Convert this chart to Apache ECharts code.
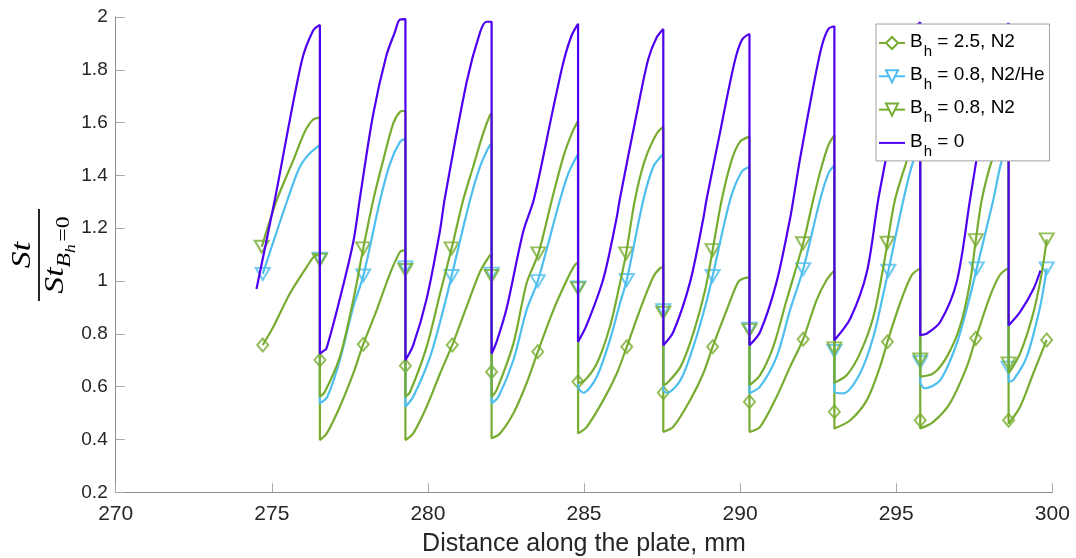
<!DOCTYPE html>
<html><head><meta charset="utf-8">
<script src="https://cdn.jsdelivr.net/npm/echarts@6/dist/echarts.min.js"></script>
<style>html,body{margin:0;padding:0;background:#fff}#c{width:1076px;height:558px}</style>
</head><body><div id="c"></div>
<script>
// ---- data (x in mm, y = St / St_{Bh=0}) ----
const seriesNames = ['B_h = 2.5, N2', 'B_h = 0.8, N2/He', 'B_h = 0.8, N2', 'B_h = 0'];
const xTicks = [270, 275, 280, 285, 290, 295, 300];
const yTicks = [0.2, 0.4, 0.6, 0.8, 1, 1.2, 1.4, 1.6, 1.8, 2];

// B_h = 2.5, N2 (green, diamonds)
const d25Line = [
  [274.71,0.758],[275.05,0.827],[275.58,0.953],[276.12,1.054],[276.38,1.095],[276.54,1.098],[276.54,0.398],
  [276.76,0.423],[277.18,0.524],[277.61,0.650],[277.93,0.761],[278.36,0.890],[278.79,1.029],[279.11,1.111],[279.28,1.117],[279.28,0.398],
  [279.53,0.423],[279.96,0.524],[280.39,0.650],[280.78,0.758],[281.24,0.903],[281.67,1.035],[281.99,1.098],[282.04,1.100],[282.04,0.405],
  [282.31,0.423],[282.74,0.499],[283.16,0.613],[283.52,0.732],[284.02,0.890],[284.45,1.004],[284.71,1.061],[284.81,1.069],[284.81,0.423],
  [285.09,0.448],[285.62,0.549],[286.05,0.650],[286.37,0.751],[286.79,0.890],[287.22,1.016],[287.43,1.048],[287.54,1.054],[287.54,0.429],
  [287.86,0.448],[288.40,0.549],[288.82,0.650],[289.12,0.751],[289.57,0.890],[289.94,0.997],[290.10,1.010],[290.30,1.014],[290.30,0.429],
  [290.64,0.448],[291.17,0.562],[291.60,0.675],[292.02,0.780],[292.45,0.928],[292.77,1.004],[293.02,1.040],[293.02,0.442],
  [293.53,0.473],[294.06,0.549],[294.48,0.675],[294.72,0.770],[295.12,0.915],[295.50,1.023],[295.77,1.048],[295.77,0.442],
  [296.19,0.467],[296.72,0.537],[297.26,0.675],[297.55,0.783],[298.00,0.941],[298.32,1.023],[298.60,1.050],[298.60,0.460],
  [298.97,0.524],[299.39,0.650],[299.82,0.777]
];
const d25Markers = [
  [274.71,0.758],[276.54,0.701],[277.93,0.761],[279.28,0.679],[280.78,0.758],[282.04,0.656],[283.52,0.732],
  [284.81,0.619],[286.37,0.751],[287.54,0.577],[289.12,0.751],[290.30,0.543],[292.02,0.780],[293.02,0.505],
  [294.72,0.770],[295.77,0.473],[297.55,0.783],[298.60,0.473],[299.82,0.777]
];

// B_h = 0.8, N2/He (blue, down triangles)
const b08HeLine = [
  [274.71,1.027],[275.50,1.307],[275.90,1.433],[276.22,1.484],[276.54,1.515],[276.54,0.537],
  [276.78,0.562],[277.18,0.701],[277.61,0.903],[277.93,1.019],[278.47,1.307],[278.79,1.446],[279.11,1.528],[279.28,1.540],[279.28,0.524],
  [279.53,0.562],[280.07,0.713],[280.49,0.890],[280.76,1.019],[281.35,1.307],[281.67,1.433],[281.93,1.503],[282.04,1.522],[282.04,0.537],
  [282.26,0.562],[282.74,0.701],[283.16,0.890],[283.52,1.000],[284.23,1.307],[284.50,1.408],[284.81,1.481],[284.81,0.600],
  [284.98,0.577],[285.41,0.638],[285.83,0.777],[286.15,0.915],[286.37,1.004],[286.90,1.307],[287.22,1.433],[287.54,1.481],[287.54,0.587],
  [287.65,0.577],[288.09,0.625],[288.50,0.751],[288.88,0.903],[289.12,1.019],[289.68,1.307],[290.05,1.414],[290.30,1.433],[290.30,0.575],
  [290.64,0.600],[291.17,0.713],[291.60,0.890],[292.02,1.045],[292.56,1.307],[292.83,1.408],[293.02,1.439],[293.02,0.581],
  [293.31,0.575],[293.84,0.650],[294.27,0.789],[294.59,0.953],[294.75,1.039],[295.23,1.307],[295.55,1.455],[295.77,1.500],[295.77,0.619],
  [295.92,0.594],[296.41,0.625],[296.94,0.764],[297.36,0.941],[297.58,1.048],[298.11,1.307],[298.38,1.455],[298.60,1.500],[298.60,0.619],
  [298.75,0.625],[299.18,0.713],[299.61,0.903],[299.82,1.048]
];
const b08HeMarkers = [
  [274.71,1.027],[276.54,1.085],[277.93,1.021],[279.28,1.052],[280.76,1.019],[282.04,1.028],[283.52,1.000],
  [284.81,0.976],[286.37,1.004],[287.54,0.890],[289.12,1.019],[290.30,0.820],[292.02,1.045],[293.02,0.735],
  [294.75,1.039],[295.77,0.693],[297.58,1.048],[298.60,0.672],[299.82,1.048]
];

// B_h = 0.8, N2 (green, down triangles)
const b08N2Line = [
  [274.68,1.130],[275.16,1.307],[275.69,1.458],[276.06,1.566],[276.31,1.610],[276.54,1.620],[276.54,0.562],
  [276.70,0.581],[277.18,0.713],[277.61,0.928],[277.93,1.124],[278.25,1.307],[278.57,1.458],[278.89,1.597],[279.11,1.641],[279.28,1.645],[279.28,0.562],
  [279.43,0.581],[279.96,0.751],[280.39,0.953],[280.76,1.124],[281.13,1.307],[281.45,1.433],[281.77,1.559],[281.99,1.629],[282.04,1.635],[282.04,0.562],
  [282.20,0.587],[282.74,0.764],[283.16,0.991],[283.54,1.105],[283.97,1.307],[284.34,1.471],[284.61,1.559],[284.81,1.607],[284.81,0.615],
  [284.98,0.619],[285.41,0.688],[285.83,0.827],[286.15,0.991],[286.35,1.105],[286.63,1.307],[286.95,1.458],[287.33,1.559],[287.54,1.584],[287.54,0.606],
  [287.65,0.612],[288.09,0.675],[288.50,0.802],[288.88,0.966],[289.12,1.117],[289.41,1.307],[289.73,1.458],[290.00,1.528],[290.30,1.547],[290.30,0.606],
  [290.64,0.644],[291.06,0.751],[291.49,0.928],[292.02,1.143],[292.34,1.307],[292.61,1.433],[292.83,1.515],[293.02,1.553],[293.02,0.615],
  [293.42,0.644],[293.84,0.726],[294.27,0.865],[294.59,1.054],[294.72,1.145],[294.96,1.307],[295.34,1.455],[295.60,1.540],[295.77,1.570],[295.77,0.638],
  [296.19,0.650],[296.62,0.713],[297.04,0.827],[297.36,0.991],[297.55,1.155],[297.74,1.307],[298.06,1.455],[298.40,1.550],[298.60,1.580],[298.60,0.650],
  [298.97,0.726],[299.39,0.878],[299.66,1.029],[299.82,1.158]
];
const b08N2Markers = [
  [274.68,1.130],[276.54,1.080],[277.93,1.124],[279.28,1.042],[280.76,1.124],[282.04,1.019],[283.54,1.105],
  [284.81,0.972],[286.35,1.105],[287.54,0.880],[289.12,1.117],[290.30,0.814],[292.02,1.143],[293.02,0.745],
  [294.72,1.145],[295.77,0.703],[297.55,1.155],[298.60,0.688],[299.82,1.158]
];

// B_h = 0 (purple line)
const b0Line = [
  [274.51,0.970],[275.10,1.310],[275.95,1.829],[276.32,1.948],[276.54,1.970],[276.54,0.725],
  [276.65,0.735],[276.75,0.744],[277.18,0.933],[277.61,1.148],[277.82,1.312],[278.24,1.627],[278.67,1.854],[278.94,1.942],[279.10,1.990],[279.28,1.992],[279.28,0.700],
  [279.53,0.757],[279.96,0.933],[280.38,1.186],[280.54,1.312],[281.24,1.753],[281.67,1.942],[281.88,1.982],[282.04,1.982],[282.04,0.725],
  [282.20,0.770],[282.52,0.896],[283.05,1.186],[283.40,1.312],[284.01,1.652],[284.34,1.829],[284.60,1.929],[284.81,1.974],[284.81,0.770],
  [285.08,0.832],[285.62,1.009],[286.04,1.236],[286.15,1.312],[286.74,1.665],[287.06,1.841],[287.33,1.923],[287.54,1.955],[287.54,0.757],
  [287.86,0.807],[288.40,0.997],[288.82,1.236],[288.93,1.312],[289.36,1.564],[289.68,1.753],[289.89,1.860],[290.08,1.917],[290.30,1.936],[290.30,0.757],
  [290.64,0.807],[291.17,0.997],[291.60,1.236],[291.71,1.312],[291.92,1.463],[292.35,1.740],[292.62,1.891],[292.83,1.955],[293.02,1.965],[293.02,0.776],
  [293.53,0.858],[294.06,1.034],[294.43,1.312],[294.90,1.600],[295.30,1.840],[295.60,1.960],[295.77,1.980],[295.77,0.795],
  [295.98,0.801],[296.41,0.845],[296.94,0.997],[297.37,1.312],[297.80,1.620],[298.20,1.860],[298.45,1.950],[298.60,1.977],[298.60,0.832],
  [298.97,0.883],[299.40,0.971],[299.62,1.040]
];

// ---- styling ----
const GREEN = '#77AC30', BLUE = '#4DBEEE', PURPLE = '#5000F0';
const FONT = 'Liberation Sans';

function lineSeries(name, data, color, symbol, size, rot) {
  return {
    type: 'line', name: name, data: data, showSymbol: false, smooth: 0.3,
    symbol: symbol, symbolSize: size, symbolRotate: rot,
    lineStyle: { color: color, width: 2.2 }, itemStyle: { color: color },
    animation: false, silent: true, emphasis: { disabled: true }
  };
}
function markerSeries(name, data, color, symbol, size, rot) {
  return {
    type: 'scatter', name: name, data: data, symbol: symbol, symbolSize: size, symbolRotate: rot,
    itemStyle: { color: 'rgba(0,0,0,0)', borderColor: color, borderWidth: 2 },
    animation: false, silent: true, emphasis: { disabled: true }
  };
}

const chart = echarts.init(document.getElementById('c'), null, { renderer: 'canvas' });

const rich = {
  m: { fontFamily: FONT, fontSize: 19, color: '#000', lineHeight: 22, verticalAlign: 'top' },
  s: { fontFamily: FONT, fontSize: 15, color: '#000', lineHeight: 15, padding: [12, 0, 0, 1], verticalAlign: 'top' }
};

chart.setOption({
  backgroundColor: '#fff',
  animation: false,
  grid: { left: 115.7, right: 23.7, top: 17, bottom: 65.7, containLabel: false, outerBoundsMode: 'none' },
  xAxis: {
    type: 'value', min: xTicks[0], max: xTicks[xTicks.length - 1], interval: 5,
    axisLine: { show: true, onZero: false, lineStyle: { color: '#8c8c8c', width: 1 } },
    axisTick: { show: true, inside: true, length: 9, lineStyle: { color: '#a8a8a8', width: 1 } },
    axisLabel: { color: '#262626', fontSize: 21, fontFamily: FONT, margin: 11 },
    splitLine: { show: false },
    name: 'Distance along the plate, mm', nameLocation: 'middle', nameGap: 39,
    nameTextStyle: { color: '#262626', fontSize: 25, fontFamily: FONT }
  },
  yAxis: {
    type: 'value', min: yTicks[0], max: yTicks[yTicks.length - 1], interval: 0.2,
    axisLine: { show: true, onZero: false, lineStyle: { color: '#8c8c8c', width: 1 } },
    axisTick: { show: true, inside: true, length: 9, lineStyle: { color: '#a8a8a8', width: 1 } },
    axisLabel: { color: '#262626', fontSize: 19, fontFamily: FONT, margin: 8 },
    splitLine: { show: false }
  },
  legend: {
    orient: 'vertical', left: 876, top: 24,
    padding: [8, 5, 2, 2], itemGap: 6.3, itemWidth: 26, itemHeight: 15,
    backgroundColor: '#fff', borderColor: '#a0a0a0', borderWidth: 1, borderRadius: 0,
    selectedMode: false,
    data: [
      { name: seriesNames[0], itemStyle: { color: '#fff', borderColor: GREEN, borderWidth: 2 } },
      { name: seriesNames[1], itemStyle: { color: '#fff', borderColor: BLUE, borderWidth: 2 } },
      { name: seriesNames[2], itemStyle: { color: '#fff', borderColor: GREEN, borderWidth: 2 } },
      { name: seriesNames[3], itemStyle: { opacity: 0 } }
    ],
    formatter: function (name) {
      return '{m|B}{s|h}{m|' + name.replace('B_h', '') + '}';
    },
    textStyle: { rich: rich }
  },
  graphic: [{
    type: 'group', x: 39, y: 255, rotation: Math.PI / 2, silent: true,
    children: [
      { type: 'rect', shape: { x: -46, y: -1, width: 92, height: 2 }, style: { fill: '#262626' } },
      { type: 'text', x: 0, y: -3, scaleX: 1.25,
        style: { text: '{a|St}', align: 'center', verticalAlign: 'bottom',
          rich: { a: { fontFamily: 'Liberation Serif', fontStyle: 'italic', fontSize: 27, color: '#262626', lineHeight: 27 } } } },
      { type: 'text', x: 0, y: 3, scaleX: 1.25,
        style: { text: '{a|St}{b|B}{c|h}{d|=0}', align: 'center', verticalAlign: 'top',
          rich: {
            a: { fontFamily: 'Liberation Serif', fontStyle: 'italic', fontSize: 27, color: '#262626', lineHeight: 27, verticalAlign: 'top' },
            b: { fontFamily: 'Liberation Serif', fontStyle: 'italic', fontSize: 19, color: '#262626', lineHeight: 19, padding: [13, 0, 0, 0], verticalAlign: 'top' },
            c: { fontFamily: 'Liberation Serif', fontStyle: 'italic', fontSize: 14, color: '#262626', lineHeight: 14, padding: [22, 1, 0, 0], verticalAlign: 'top' },
            d: { fontFamily: 'Liberation Serif', fontSize: 19, color: '#262626', lineHeight: 19, padding: [13, 0, 0, 1], verticalAlign: 'top' }
          } } }
    ]
  }],
  series: [
    lineSeries(seriesNames[0], d25Line, GREEN, 'diamond', [11, 13], 0),
    markerSeries(seriesNames[0], d25Markers, GREEN, 'diamond', [11, 13], 0),
    lineSeries(seriesNames[1], b08HeLine, BLUE, 'triangle', [14, 12], 180),
    markerSeries(seriesNames[1], b08HeMarkers, BLUE, 'triangle', [14, 12], 180),
    lineSeries(seriesNames[2], b08N2Line, GREEN, 'triangle', [14, 12], 180),
    markerSeries(seriesNames[2], b08N2Markers, GREEN, 'triangle', [14, 12], 180),
    lineSeries(seriesNames[3], b0Line, PURPLE, 'none', 1, 0)
  ]
});
</script>
</body></html>
